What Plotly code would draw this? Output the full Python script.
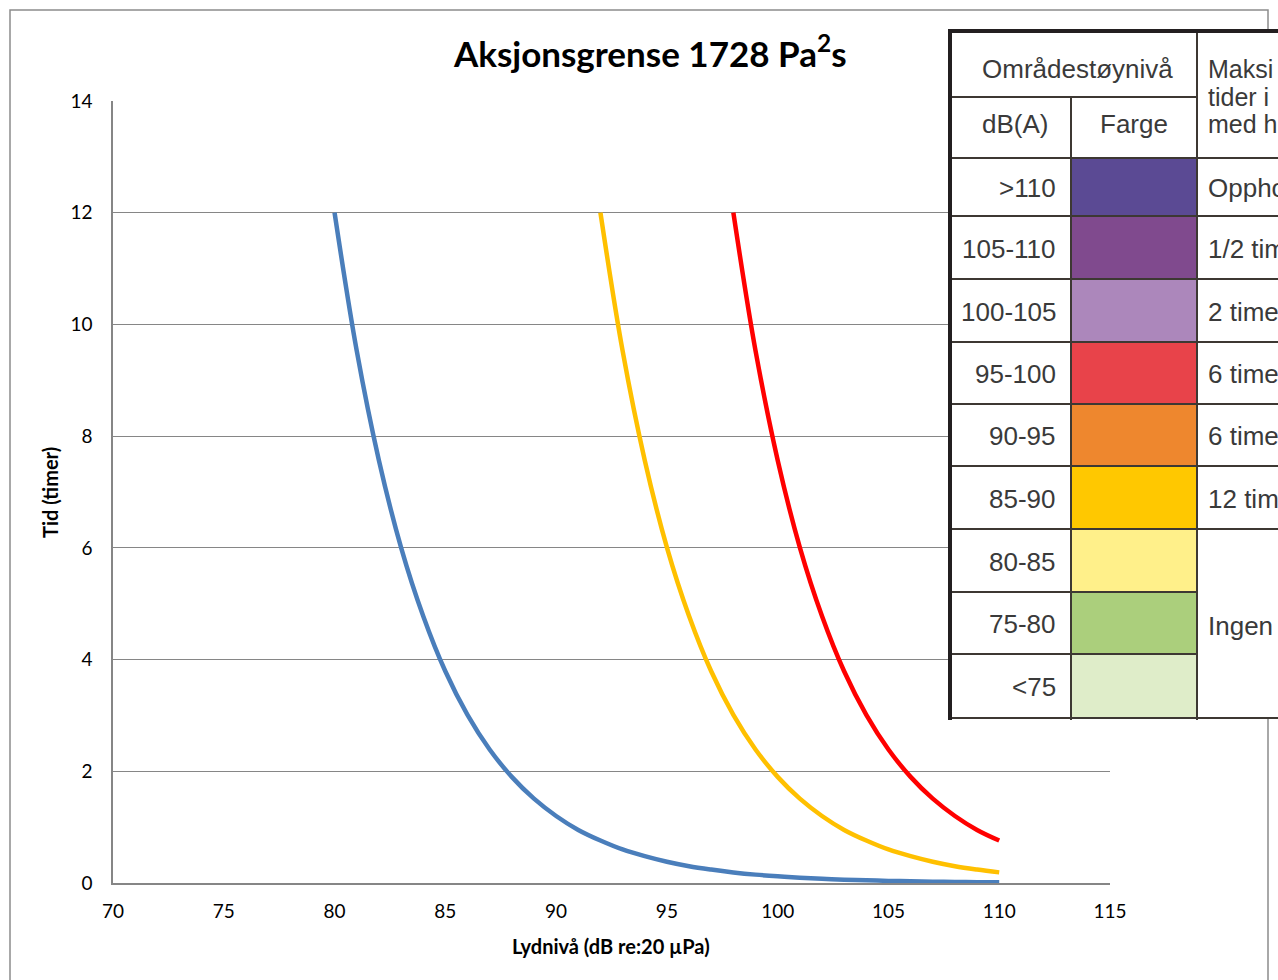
import plotly.graph_objects as go

# ---------------- data ----------------
blue_x = list(range(80, 111))
blue_y = [12.0, 9.53, 7.57, 6.01, 4.78, 3.79, 3.01, 2.39, 1.90, 1.51, 1.20, 0.95, 0.76,
          0.60, 0.48, 0.38, 0.30, 0.24, 0.19, 0.15, 0.12, 0.095, 0.076, 0.060, 0.048,
          0.038, 0.030, 0.024, 0.019, 0.015, 0.012]
yellow_x = list(range(92, 111))
yellow_y = [12.0, 9.53, 7.57, 6.01, 4.78, 3.79, 3.01, 2.39, 1.90, 1.51, 1.20, 0.95, 0.76,
            0.60, 0.48, 0.38, 0.30, 0.24, 0.19]
red_x = list(range(98, 111))
red_y = [12.0, 9.53, 7.57, 6.01, 4.78, 3.79, 3.01, 2.39, 1.90, 1.51, 1.20, 0.95, 0.76]

x_ticks = [70, 75, 80, 85, 90, 95, 100, 105, 110, 115]
y_ticks = [0, 2, 4, 6, 8, 10, 12, 14]

title_text = "Aksjonsgrense 1728 Pa<sup>2</sup>s"
x_title = "Lydnivå (dB re:20 µPa)"
y_title = "Tid (timer)"

# table contents (image inset, right part cropped)
table_header1 = "Områdestøynivå"
table_header_db = "dB(A)"
table_header_col = "Farge"
table_header3 = ["Maksi", "tider i", "med h"]
table_levels = [">110", "105-110", "100-105", "95-100", "90-95", "85-90", "80-85", "75-80", "<75"]
table_colors = ["#5b4a94", "#804a8e", "#ac87bb", "#e8434a", "#ee872e", "#ffc800",
                "#fff08a", "#abcf7c", "#dfedc9"]
table_col3 = ["Oppho", "1/2 tim", "2 time", "6 time", "6 time", "12 tim"]
table_col3_merged = "Ingen"

# ---------------- layout geometry (pixels) ----------------
W, H = 1278, 980
L, R, T, B = 113, 1110, 101, 883


def px(x):
    return (x - L) / (R - L)


def py(y):
    return (B - y) / (B - T)


fig = go.Figure()
line_w = 4.5
fig.add_trace(go.Scatter(x=blue_x, y=blue_y, mode="lines",
                         line=dict(color="#4a7ebb", width=line_w, shape="spline"),
                         showlegend=False))
fig.add_trace(go.Scatter(x=yellow_x, y=yellow_y, mode="lines",
                         line=dict(color="#ffc000", width=line_w, shape="spline"),
                         showlegend=False))
fig.add_trace(go.Scatter(x=red_x, y=red_y, mode="lines",
                         line=dict(color="#ff0000", width=line_w, shape="spline"),
                         showlegend=False))

axis_font = dict(family="Lato, Open Sans, sans-serif", size=19, color="#000000")

fig.update_layout(
    width=W, height=H, autosize=False,
    margin=dict(l=L, r=W - R, t=T, b=H - B, pad=0),
    paper_bgcolor="white", plot_bgcolor="white",
    showlegend=False,
    xaxis=dict(range=[70, 115], tickvals=x_ticks, ticktext=[str(v) for v in x_ticks],
               showgrid=False, zeroline=False, showline=True, linecolor="#868686",
               linewidth=1.5, ticks="", tickfont=axis_font, ticklabelstandoff=10,
               fixedrange=True),
    yaxis=dict(range=[0, 14], tickvals=y_ticks, ticktext=[str(v) for v in y_ticks],
               showgrid=True, gridcolor="#868686", gridwidth=1, zeroline=False,
               showline=True, linecolor="#868686", linewidth=1.5, ticks="",
               tickfont=axis_font, ticklabelstandoff=15, fixedrange=True),
)

shapes = []
annotations = []

# outer chart frame
shapes.append(dict(type="rect", xref="paper", yref="paper",
                   x0=px(10), x1=px(1268), y0=py(995), y1=py(10),
                   line=dict(color="#8c8c8c", width=1.5), layer="below"))

# titles
annotations.append(dict(text="<b>" + title_text + "</b>", xref="paper", yref="paper",
                        x=px(650), y=py(51), showarrow=False, xanchor="center", yanchor="middle",
                        font=dict(family="Lato, Open Sans, sans-serif", size=35, color="#000")))
annotations.append(dict(text="<b>" + x_title + "</b>", xref="paper", yref="paper",
                        x=px(611), y=py(946), showarrow=False, xanchor="center", yanchor="middle",
                        font=dict(family="Lato, Open Sans, sans-serif", size=20, color="#000")))
annotations.append(dict(text="<b>" + y_title + "</b>", xref="paper", yref="paper",
                        x=px(50), y=py(492), showarrow=False, xanchor="center", yanchor="middle",
                        textangle=-90,
                        font=dict(family="Lato, Open Sans, sans-serif", size=20, color="#000")))

# ---------------- table inset ----------------
TX0, TX1 = 950, 1290
TY0, TY1 = 31, 718
C1, C2 = 1071, 1197
ROW_H1 = 97
row_edges = [158, 216, 279, 342, 404, 466, 529, 592, 654, 718]
grid_col = "#3d3833"

# white background
shapes.append(dict(type="rect", xref="paper", yref="paper",
                   x0=px(TX0), x1=px(TX1), y0=py(TY1), y1=py(TY0),
                   fillcolor="white", line=dict(width=0), layer="above"))
# colour cells
for i, c in enumerate(table_colors):
    shapes.append(dict(type="rect", xref="paper", yref="paper",
                       x0=px(C1), x1=px(C2), y0=py(row_edges[i + 1]), y1=py(row_edges[i]),
                       fillcolor=c, line=dict(width=0), layer="above"))


def hline(y, x0, x1, w=2, col=grid_col):
    shapes.append(dict(type="line", xref="paper", yref="paper",
                       x0=px(x0), x1=px(x1), y0=py(y), y1=py(y),
                       line=dict(color=col, width=w), layer="above"))


def vline(x, y0, y1, w=2, col=grid_col):
    shapes.append(dict(type="line", xref="paper", yref="paper",
                       x0=px(x), x1=px(x), y0=py(y0), y1=py(y1),
                       line=dict(color=col, width=w), layer="above"))


hline(ROW_H1, TX0, C2)
for y in row_edges:
    if y in (592, 654):
        hline(y, TX0, C2)
    else:
        hline(y, TX0, TX1)
vline(C1, ROW_H1, TY1 + 2)
vline(C2, TY0, TY1 + 2)
# thick outer borders
hline(TY0, TX0 - 2, TX1, w=4, col="#231f20")
vline(TX0, TY0 - 2, TY1 + 2, w=4, col="#231f20")

tfont = dict(family="Liberation Sans, Arial, sans-serif", size=26, color="#3a3a3a")


def ttext(s, x, y, anchor, size=26):
    f = dict(tfont)
    f["size"] = size
    annotations.append(dict(text=s, xref="paper", yref="paper", x=px(x), y=py(y),
                            showarrow=False, xanchor=anchor, yanchor="middle", font=f))


ttext(table_header1, (TX0 + C2) / 2 + 4, 69, "center")
ttext(table_header_db, (TX0 + C1) / 2 + 4, 124, "center")
ttext(table_header_col, (C1 + C2) / 2, 124, "center")
for s, yy in zip(table_header3, [69, 97, 124]):
    ttext(s, 1206, yy, "left", size=25)
for i, s in enumerate(table_levels):
    ttext(s, 1058, (row_edges[i] + row_edges[i + 1]) / 2 + 1, "right")
for i, s in enumerate(table_col3):
    ttext(s, 1206, (row_edges[i] + row_edges[i + 1]) / 2 + 1, "left")
ttext(table_col3_merged, 1206, 626, "left")

fig.update_layout(shapes=shapes, annotations=annotations)
fig.write_html("out.html",
               config={"displayModeBar": False},
               post_script="document.body.style.margin='0';"
                           "document.documentElement.style.overflow='hidden';"
                           "document.body.style.overflow='hidden';")
